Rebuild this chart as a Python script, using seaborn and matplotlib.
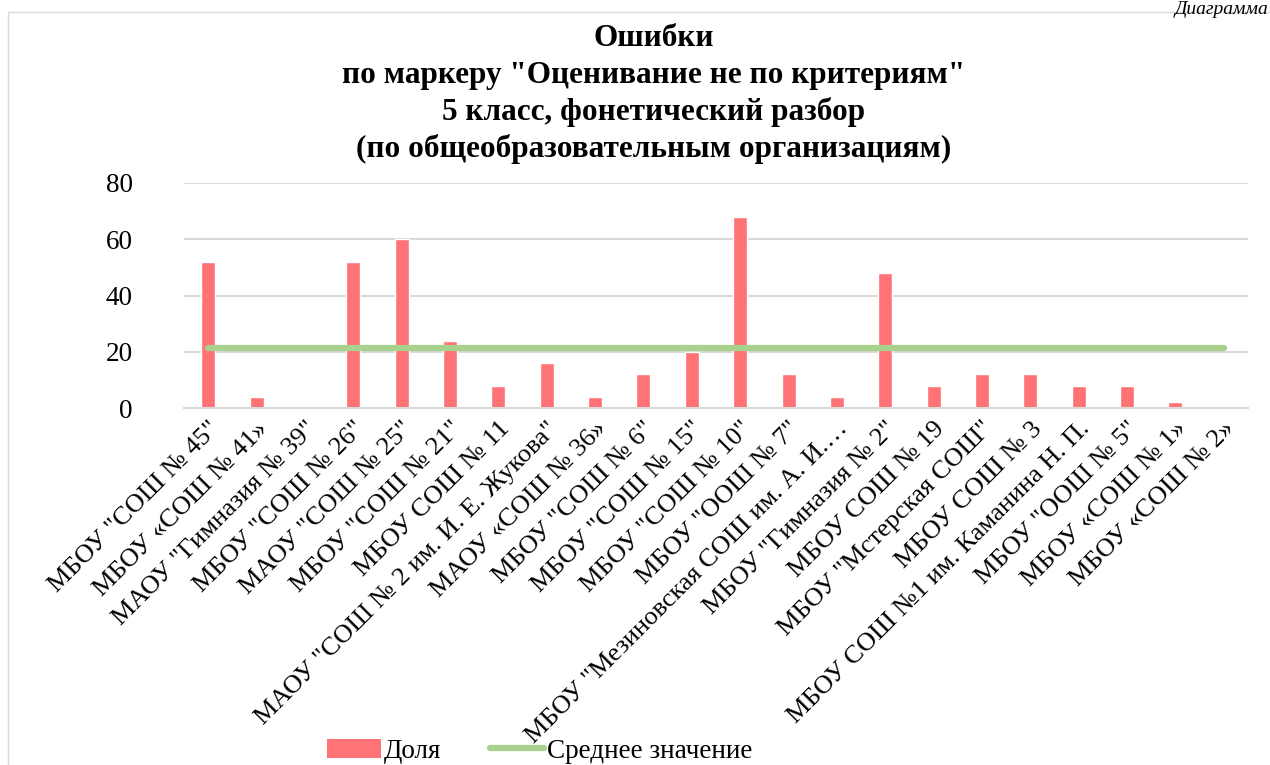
import pandas as pd
import matplotlib.pyplot as plt
import seaborn as sns
from matplotlib.patches import Patch, Rectangle
from matplotlib.lines import Line2D

schools = [
    'МБОУ "СОШ № 45"', 'МБОУ «СОШ № 41»', 'МАОУ "Гимназия № 39"', 'МБОУ "СОШ № 26"',
    'МАОУ "СОШ № 25"', 'МБОУ "СОШ № 21"', 'МБОУ СОШ № 11', 'МАОУ "СОШ № 2 им. И. Е. Жукова"',
    'МАОУ «СОШ № 36»', 'МБОУ "СОШ № 6"', 'МБОУ "СОШ № 15"', 'МБОУ "СОШ № 10"',
    'МБОУ "ООШ № 7"', 'МБОУ "Мезиновская СОШ им. А. И.…', 'МБОУ "Гимназия № 2"', 'МБОУ СОШ № 19',
    'МБОУ "Мстерская СОШ"', 'МБОУ СОШ № 3', 'МБОУ СОШ №1 им. Каманина Н. П.', 'МБОУ "ООШ № 5"',
    'МБОУ «СОШ № 1»', 'МБОУ «СОШ № 2»',
]
share = [52, 4, 0, 52, 60, 24, 8, 16, 4, 12, 20, 68, 12, 4, 48, 8, 12, 12, 8, 8, 2, 0]
mean_value = [21.5] * len(schools)

title = ('Ошибки\nпо маркеру "Оценивание не по критериям"\n'
         '5 класс, фонетический разбор\n(по общеобразовательным организациям)')

sns.set_style("white")
plt.rcParams['font.family'] = ['Liberation Serif', 'DejaVu Serif']
plt.rcParams['text.color'] = 'black'
plt.rcParams['xtick.color'] = 'black'
plt.rcParams['ytick.color'] = 'black'

df = pd.DataFrame({"school": schools, "share": share, "mean": mean_value})
df["pos"] = range(len(df))

fig = plt.figure(figsize=(12.7, 7.65), dpi=100)
ax = fig.add_axes([184 / 1270, 1 - 408 / 765, 1064 / 1270, 225 / 765])

# chart border
fig.patches.append(Rectangle((8 / 1270, -0.1), 1.2, 1 - 12 / 765 + 0.1, transform=fig.transFigure,
                             fill=False, edgecolor="#d9d9d9", linewidth=1))
fig.text(0.999, 0.999, "Диаграмма", ha="right", va="top", fontsize=14, style="italic")

sns.barplot(data=df, x="school", y="share", color="#ff7276", saturation=1, width=0.29, ax=ax)
sns.lineplot(data=df, x="pos", y="mean", color="#a9d18e", linewidth=4.5,
             solid_capstyle="round", ax=ax)

ax.set_xlim(-0.5, len(df) - 0.5)
ax.set_ylim(0, 80)
ax.set_yticks([0, 20, 40, 60, 80])
ax.yaxis.grid(True, color="#d9d9d9", linewidth=1.5)
ax.set_axisbelow(True)
for s in ["top", "right", "left"]:
    ax.spines[s].set_visible(False)
ax.spines["bottom"].set_color("#d9d9d9")
ax.spines["bottom"].set_linewidth(1.5)
ax.tick_params(axis="y", length=0, labelsize=19.5, pad=37)
ax.tick_params(axis="x", length=0, labelsize=19, pad=7)
ax.set_xticks(df["pos"])
ax.set_xticklabels(schools, rotation=45, ha="right", rotation_mode="anchor")
ax.set_xlabel("")
ax.set_ylabel("")

fig.text(0.515, 0.968, title, ha="center", va="top", fontsize=22.5, fontweight="bold",
         linespacing=1.32)

handles = [Patch(facecolor="#ff7276", edgecolor="none"),
           Line2D([0], [0], color="#a9d18e", linewidth=4.5)]
fig.legend(handles, ["Доля", "Среднее значение"], loc="lower center", ncol=2,
           bbox_to_anchor=(0.425, -0.03), frameon=False, fontsize=19.5,
           handlelength=2.0, handletextpad=0.1, columnspacing=1.8)

fig.savefig("out.png", dpi=100)
